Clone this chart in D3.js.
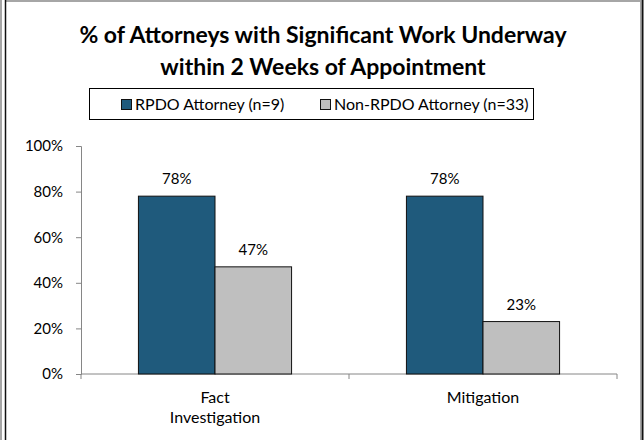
<!DOCTYPE html>
<html>
<head>
<meta charset="utf-8">
<script src="https://cdn.jsdelivr.net/npm/d3@7"></script>
<style>
  html, body { margin: 0; padding: 0; background: #fff; }
  svg { display: block; }
  text { font-family: Lato, "Open Sans", sans-serif; fill: #000; }
</style>
</head>
<body>
<svg id="chart" width="644" height="440"></svg>
<script>
// ---- data ----
const titleLines = ["% of Attorneys with Significant Work Underway", "within 2 Weeks of Appointment"];
const categories = ["Fact\nInvestigation", "Mitigation"];
const seriesNames = ["RPDO Attorney (n=9)", "Non-RPDO Attorney (n=33)"];
const rpdoValues = [78, 78];
const nonRpdoValues = [47, 23];
const yTicks = [0, 20, 40, 60, 80, 100];
const seriesColors = ["#1f5a7c", "#bfbfbf"];

const seriesValues = [rpdoValues, nonRpdoValues];

const svg = d3.select("#chart");

// ---- frame ----
svg.append("line").attr("x1", 1).attr("x2", 1).attr("y1", 0).attr("y2", 440)
  .attr("stroke", "#a6a6a6").attr("stroke-width", 2);
svg.append("line").attr("x1", 6).attr("x2", 641).attr("y1", 1).attr("y2", 1)
  .attr("stroke", "#a6a6a6").attr("stroke-width", 2);
svg.append("line").attr("x1", 640.5).attr("x2", 640.5).attr("y1", 2).attr("y2", 440)
  .attr("stroke", "#a6a6a6").attr("stroke-width", 1);
svg.append("line").attr("x1", 5.5).attr("x2", 5.5).attr("y1", 0).attr("y2", 440)
  .attr("stroke", "#111").attr("stroke-width", 1.5);
svg.append("line").attr("x1", 642.5).attr("x2", 642.5).attr("y1", 0).attr("y2", 440)
  .attr("stroke", "#111").attr("stroke-width", 2);

// ---- title ----
svg.append("g").selectAll("text").data(titleLines).join("text")
  .attr("x", 323).attr("y", (d, i) => 43 + i * 32)
  .attr("text-anchor", "middle")
  .attr("font-size", 23).attr("font-weight", "bold")
  .text(d => d);

// ---- scales ----
const x0 = d3.scaleBand().domain(categories).range([81, 617]).paddingInner(0).paddingOuter(0);
const x1 = d3.scaleBand().domain(d3.range(seriesNames.length)).range([0, x0.bandwidth()])
  .paddingInner(0).paddingOuter(0.75);
const y = d3.scaleLinear().domain([0, 100]).range([374, 146]);

// ---- y axis ----
const yAxis = svg.append("g").attr("transform", "translate(81,0)")
  .call(d3.axisLeft(y).tickValues(yTicks).tickFormat(d => d + "%").tickSize(5).tickSizeOuter(5).tickPadding(13));
yAxis.selectAll("path, line").attr("stroke", "#868686");
yAxis.selectAll("text").attr("font-size", 15).attr("font-family", "Lato").attr("fill", "#000");

// ---- x axis ----
const xAxis = svg.append("g").attr("transform", "translate(0,374)");
xAxis.append("line").attr("x1", x0.range()[0]).attr("x2", x0.range()[1]).attr("y1", 0).attr("y2", 0)
  .attr("stroke", "#868686");
const boundaries = categories.map(c => x0(c)).concat([x0.range()[1]]);
xAxis.selectAll("line.tick").data(boundaries).join("line").attr("class", "tick")
  .attr("x1", d => d).attr("x2", d => d).attr("y1", 0).attr("y2", 5).attr("stroke", "#868686");
categories.forEach(c => {
  const lines = c.split("\n");
  const t = xAxis.append("text").attr("text-anchor", "middle").attr("font-size", 16)
    .attr("x", x0(c) + x0.bandwidth() / 2).attr("y", 29);
  lines.forEach((ln, i) => t.append("tspan").attr("x", x0(c) + x0.bandwidth() / 2).attr("dy", i === 0 ? 0 : 20).text(ln));
});

// ---- bars ----
const groups = svg.append("g").selectAll("g").data(categories).join("g")
  .attr("transform", c => `translate(${x0(c)},0)`);
groups.selectAll("rect").data((c, ci) => seriesValues.map((vals, si) => ({ si, v: vals[ci] }))).join("rect")
  .attr("x", d => x1(d.si)).attr("width", x1.bandwidth())
  .attr("y", d => y(d.v)).attr("height", d => y(0) - y(d.v))
  .attr("fill", d => seriesColors[d.si]).attr("stroke", "#111").attr("stroke-width", 1);
groups.selectAll("text").data((c, ci) => seriesValues.map((vals, si) => ({ si, v: vals[ci] }))).join("text")
  .attr("x", d => x1(d.si) + x1.bandwidth() / 2).attr("y", d => y(d.v) - 12)
  .attr("text-anchor", "middle").attr("font-size", 15)
  .text(d => d.v + "%");

// ---- legend ----
const legend = svg.append("g");
legend.append("rect").attr("x", 89.5).attr("y", 88.5).attr("width", 444).attr("height", 31)
  .attr("fill", "#fff").attr("stroke", "#000").attr("stroke-width", 1);
const legendX = [121, 320];
seriesNames.forEach((name, i) => {
  legend.append("rect").attr("x", legendX[i] + 0.5).attr("y", 99.5).attr("width", 10).attr("height", 10)
    .attr("fill", seriesColors[i]).attr("stroke", "#111");
  legend.append("text").attr("x", legendX[i] + 14).attr("y", 110).attr("font-size", 16).text(name);
});
</script>
</body>
</html>
